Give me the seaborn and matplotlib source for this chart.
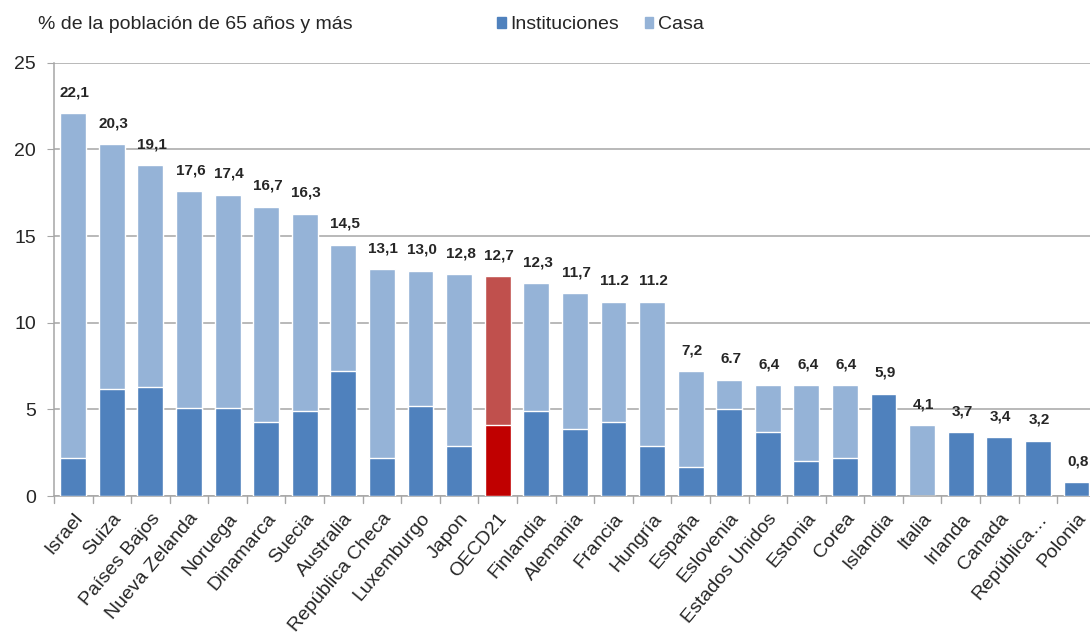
import matplotlib
matplotlib.use("Agg")
import matplotlib.pyplot as plt
import pandas as pd
import seaborn as sns
from matplotlib.patches import Patch

countries = ["Israel", "Suiza", "Países Bajos", "Nueva Zelanda", "Noruega", "Dinamarca",
             "Suecia", "Australia", "República Checa", "Luxemburgo", "Japon", "OECD21",
             "Finlandia", "Alemania", "Francia", "Hungría", "España", "Eslovenia",
             "Estados Unidos", "Estonia", "Corea", "Islandia", "Italia", "Irlanda",
             "Canada", "República…", "Polonia"]
totals = [22.1, 20.3, 19.1, 17.6, 17.4, 16.7, 16.3, 14.5, 13.1, 13.0, 12.8, 12.7,
          12.3, 11.7, 11.2, 11.2, 7.2, 6.7, 6.4, 6.4, 6.4, 5.9, 4.1, 3.7, 3.4, 3.2, 0.8]
institutions = [2.2, 6.2, 6.3, 5.1, 5.1, 4.3, 4.9, 7.2, 2.2, 5.2, 2.9, 4.1,
                4.9, 3.9, 4.3, 2.9, 1.7, 5.0, 3.7, 2.0, 2.2, 5.9, 0.0, 3.7, 3.4, 3.2, 0.8]
total_labels = ["22,1", "20,3", "19,1", "17,6", "17,4", "16,7", "16,3", "14,5", "13,1",
                "13,0", "12,8", "12,7", "12,3", "11,7", "11.2", "11.2", "7,2", "6.7",
                "6,4", "6,4", "6,4", "5,9", "4,1", "3,7", "3,4", "3,2", "0,8"]

DARK = "#4F81BD"
LIGHT = "#95B3D7"
RED_DARK = "#C00000"
RED_LIGHT = "#C0504D"
GRID = "#A6A6A6"

df = pd.DataFrame({"country": countries, "total": totals, "inst": institutions})

sns.set_style("white")
plt.rcParams["font.family"] = ["Liberation Sans", "DejaVu Sans"]

fig = plt.figure(figsize=(10.9, 6.41), dpi=100)
ax = fig.add_axes([0.0495, 0.226, 0.9505, 0.676])

pal_top = {c: (RED_LIGHT if c == "OECD21" else LIGHT) for c in countries}
pal_bot = {c: (RED_DARK if c == "OECD21" else DARK) for c in countries}

# total height drawn first (Casa), institutions drawn over it
sns.barplot(data=df, x="country", y="total", hue="country", palette=pal_top,
            width=0.67, legend=False, ax=ax, zorder=2, saturation=1)
sns.barplot(data=df, x="country", y="inst", hue="country", palette=pal_bot,
            width=0.67, legend=False, ax=ax, zorder=3, saturation=1)

for i, (t, lab) in enumerate(zip(totals, total_labels)):
    ax.annotate(lab, (i, t), xytext=(1, 10), textcoords="offset points",
                ha="center", va="bottom", fontsize=11, fontweight="bold")

ax.set_ylim(0, 25)
ax.set_yticks([0, 5, 10, 15, 20, 25])
ax.set_xlim(-0.5, 26.35)
ax.yaxis.grid(True, color=GRID, linewidth=1.1, zorder=0)
ax.set_axisbelow(True)
for s in ["top", "right"]:
    ax.spines[s].set_visible(False)
for s in ["left", "bottom"]:
    ax.spines[s].set_color(GRID)
    ax.spines[s].set_linewidth(1.1)

ax.set_xlabel("")
ax.set_ylabel("")
ax.tick_params(axis="y", labelsize=14, length=5, color=GRID, direction="out", pad=8, left=True)
ax.tick_params(axis="x", length=0, labelsize=14, pad=10)
ax.set_xticks(range(len(countries)))
ax.set_xticklabels(countries, rotation=50, ha="right", rotation_mode="anchor")
for i in range(len(countries) + 1):
    ax.plot([i - 0.5, i - 0.5], [0, -0.4], color=GRID, lw=1.0, clip_on=False)

fig.text(0.035, 0.961, "% de la población de 65 años y más", fontsize=14, va="center")
handles = [Patch(color=DARK, label="Instituciones"), Patch(color=LIGHT, label="Casa")]
fig.legend(handles=handles, loc="center", bbox_to_anchor=(0.551, 0.961), ncol=2,
           frameon=False, fontsize=14, handlelength=0.45, handleheight=0.45,
           handletextpad=0.25, columnspacing=1.3)

fig.savefig("out.png", dpi=100)
